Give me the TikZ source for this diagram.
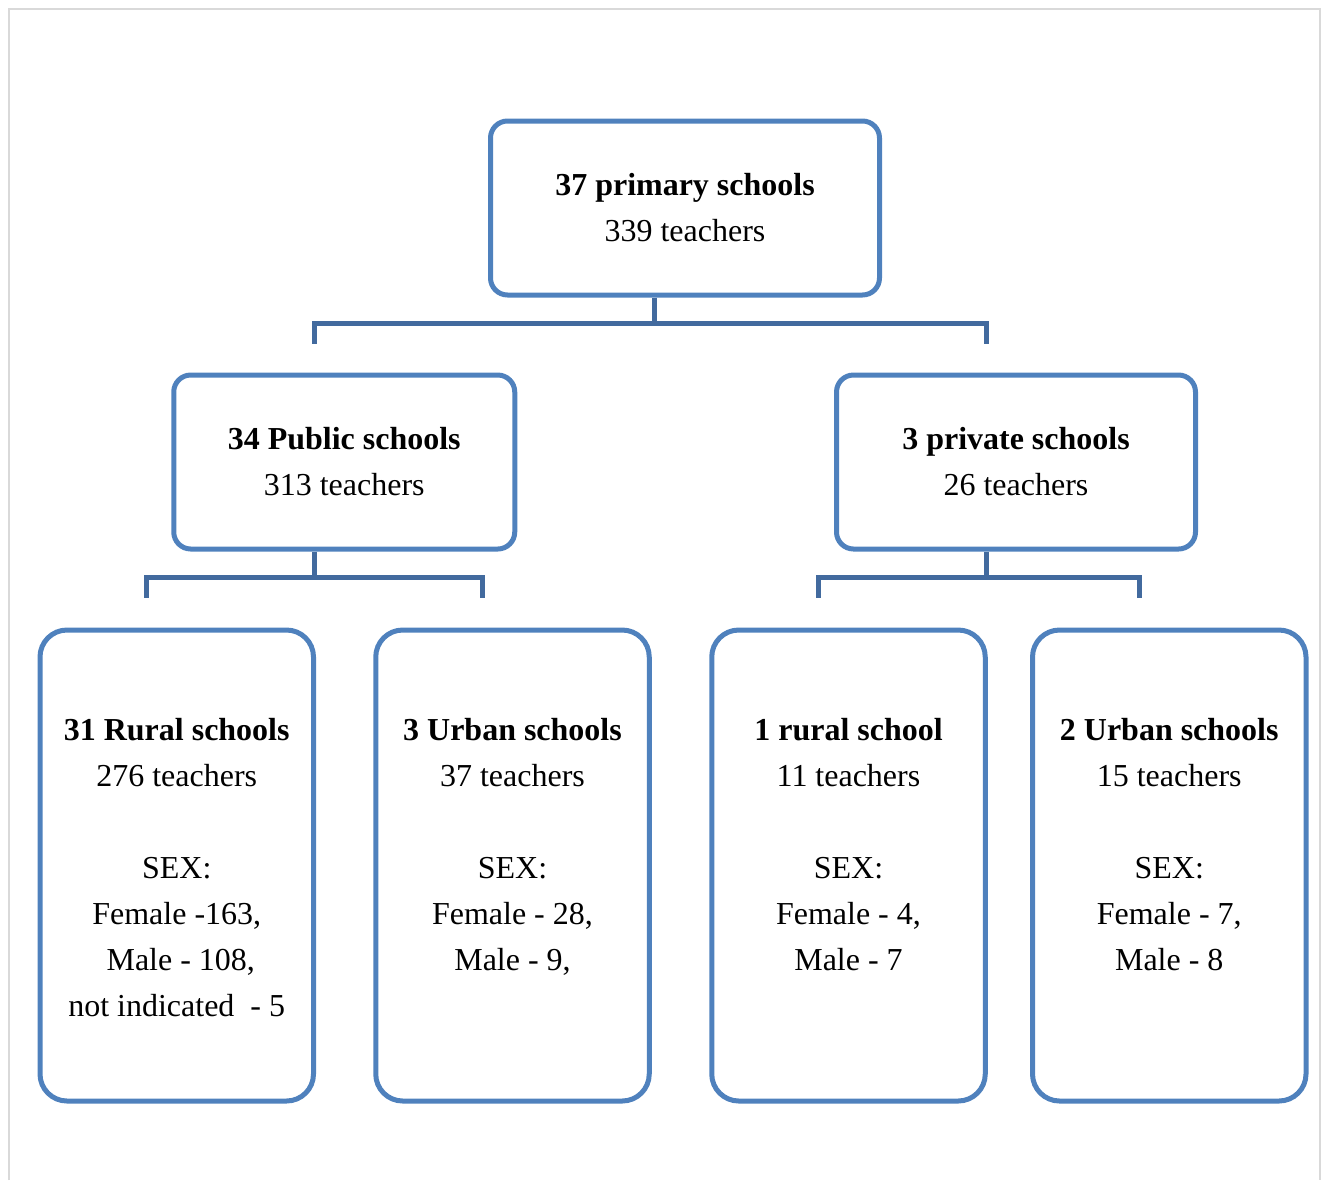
\documentclass[tikz,border=0pt]{standalone}
\usepackage{fontspec}
\setmainfont{Liberation Serif}
\usepackage{tikz}
\usetikzlibrary{calc}
\definecolor{boxblue}{HTML}{4F81BD}
\definecolor{linkblue}{HTML}{426A9E}
\definecolor{framegray}{HTML}{D9D9D9}
\newcommand{\leaf}[2]{\parbox[c][5.9cm][t]{5.2cm}{\centering\textbf{#1}\\#2}}

\begin{document}
\begin{tikzpicture}[font=\fontsize{18.2pt}{26.2pt}\selectfont,
  box/.style={draw=boxblue,line width=0.1cm,rectangle,rounded corners=0.34cm,align=center,inner sep=0pt,minimum height=3.48cm},
  leafbox/.style={box,rounded corners=0.54cm,minimum width=5.47cm,minimum height=9.42cm},
  link/.style={draw=linkblue,line width=0.1cm}]
\useasboundingbox (0,0) rectangle (26.44,-23.6);
\draw[framegray,line width=0.04cm] (0.18,-23.6) |- (26.4,-0.18) -- (26.4,-23.6);

\node[box,minimum width=7.78cm] (S0) at (13.7,-4.16) {\textbf{37 primary schools}\\339 teachers};
\node[box,minimum width=6.82cm] (Spub) at (6.885,-9.24) {\textbf{34 Public schools}\\313 teachers};
\node[box,minimum width=7.18cm] (Spriv) at (20.32,-9.24) {\textbf{3 private schools}\\26 teachers};
\node[leafbox] (Rpub) at (3.535,-17.31) {\leaf{31 Rural schools}{276 teachers\\[0.92cm]SEX:\\Female -163,\\\ Male - 108,\\not indicated\ \ - 5}};
\node[leafbox] (Upub) at (10.25,-17.31) {\leaf{3 Urban schools}{37 teachers\\[0.92cm]SEX:\\Female - 28,\\Male - 9,}};
\node[leafbox] (Rpriv) at (16.97,-17.31) {\leaf{1 rural school}{11 teachers\\[0.92cm]SEX:\\Female - 4,\\Male - 7}};
\node[leafbox] (Upriv) at (23.385,-17.31) {\leaf{2 Urban schools}{15 teachers\\[0.92cm]SEX:\\Female - 7,\\Male - 8}};

\draw[link] ($(S0.south)+(-0.62,0)$) -- ++(0,-0.51) coordinate (j0);
\draw[link] ($(Spub.north)+(-0.6,0.58)$) |- (j0) -| ($(Spriv.north)+(-0.6,0.58)$);
\draw[link] ($(Spub.south)+(-0.6,0)$) -- ++(0,-0.51) coordinate (j1);
\draw[link] ($(Rpub.north)+(-0.6,0.6)$) |- (j1) -| ($(Upub.north)+(-0.6,0.6)$);
\draw[link] ($(Spriv.south)+(-0.6,0)$) -- ++(0,-0.51) coordinate (j2);
\draw[link] ($(Rpriv.north)+(-0.6,0.6)$) |- (j2) -| ($(Upriv.north)+(-0.6,0.6)$);
\end{tikzpicture}
\end{document}
